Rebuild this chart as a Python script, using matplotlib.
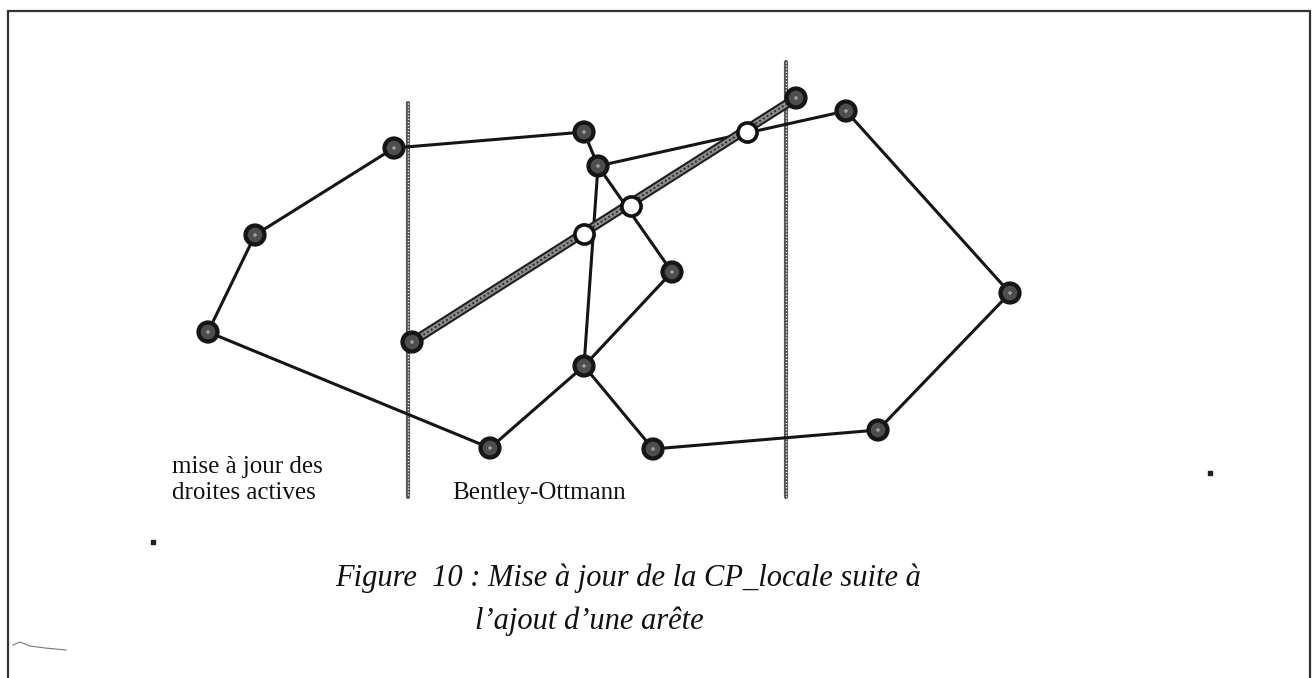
"""
Figure 10 : mise à jour de la CP_locale suite à l'ajout d'une arête.

Coordonnées lues sur l'image (pixels, y vers le bas).
"""
import matplotlib.pyplot as plt

# polygone de gauche
poly1_x = [394, 584, 598, 672, 584, 490, 208, 255, 394]
poly1_y = [148, 132, 166, 272, 366, 448, 332, 235, 148]

# polygone de droite
poly2_x = [598, 846, 1010, 878, 653, 584, 598]
poly2_y = [166, 111, 293, 430, 449, 366, 166]

# arête ajoutée (trait épais grisé)
arete_x = [412, 796]
arete_y = [342, 98]

# points d'intersection (cercles blancs)
inter_x = [584, 631, 747]
inter_y = [234, 206, 132]

# droites de balayage verticales
balai_x = [408, 786]
balai_haut = [103, 62]
balai_bas = [497, 497]

# cadre
cadre_x = [8, 8, 1310, 1310]
cadre_y = [678, 11, 11, 678]

# petites taches du scan
taches_x = [153, 1210]
taches_y = [542, 473]
rayure_x = [13, 20, 30, 45, 66]
rayure_y = [645, 642, 646, 648, 650]

texte_gauche = "mise à jour des\ndroites actives"
texte_bo = "Bentley-Ottmann"
legende1 = "Figure  10 : Mise à jour de la CP_locale suite à"
legende2 = "l’ajout d’une arête"

fig = plt.figure(figsize=(13.14, 6.78), dpi=100)
ax = fig.add_axes([0, 0, 1, 1])
ax.set_xlim(0, 1314)
ax.set_ylim(678, 0)
ax.axis('off')

# cadre
ax.plot(cadre_x, cadre_y, color='#333333', lw=1.6, solid_joinstyle='miter')

# droites verticales pointillées
for x, h, b in zip(balai_x, balai_haut, balai_bas):
    ax.plot([x, x], [h, b], color='#555555', lw=3.0, solid_capstyle='round', zorder=2)
    ax.plot([x, x], [h, b], color='white', lw=1.0, ls=(0, (0.8, 1.4)), zorder=2.1)

# polygones
ax.plot(poly1_x, poly1_y, color='#151515', lw=2.2, zorder=3)
ax.plot(poly2_x, poly2_y, color='#151515', lw=2.2, zorder=3)

# arête ajoutée
ax.plot(arete_x, arete_y, color='#1e1e1e', lw=6.8, solid_capstyle='butt', zorder=4)
ax.plot(arete_x, arete_y, color='#8c8c8c', lw=3.8, solid_capstyle='butt', zorder=4.1)
ax.plot(arete_x, arete_y, color='#2a2a2a', lw=1.4, ls=(0, (1, 1.3)), zorder=4.2)

# sommets
sx = poly1_x[:-1] + poly2_x[1:5] + [arete_x[0], arete_x[1]]
sy = poly1_y[:-1] + poly2_y[1:5] + [arete_y[0], arete_y[1]]
ax.scatter(sx, sy, s=280, color='#161616', edgecolors='none', zorder=5)
ax.scatter(sx, sy, s=110, color='#4e4e4e', edgecolors='none', zorder=5.1)
ax.scatter(sx, sy, s=6, color='#9a9a9a', marker='+', linewidths=1.2, zorder=5.2)

# intersections
ax.scatter(inter_x, inter_y, s=190, facecolor='white', edgecolors='#111111',
           linewidths=2.6, zorder=6)

# taches
ax.scatter(taches_x, taches_y, s=8, color='#222222', marker='s', zorder=2)
ax.plot(rayure_x, rayure_y, color='#777777', lw=0.8)

# textes
police = ['Liberation Serif', 'DejaVu Serif']
ax.text(172, 480, texte_gauche, fontsize=18, family=police, va='center',
        ha='left', linespacing=1.2, color='#111111')
ax.text(452, 493, texte_bo, fontsize=18, family=police, va='center',
        ha='left', color='#111111')
ax.text(628, 578, legende1, fontsize=22, family=police, style='italic',
        va='center', ha='center', color='#111111')
ax.text(589, 621, legende2, fontsize=22, family=police, style='italic',
        va='center', ha='center', color='#111111')

fig.savefig('out.png', dpi=100)
